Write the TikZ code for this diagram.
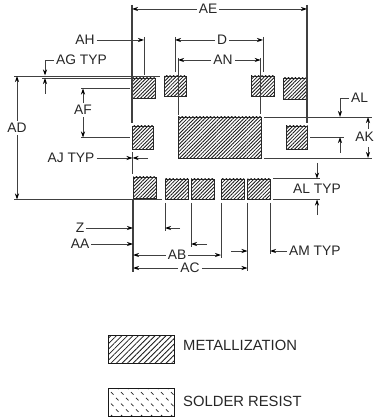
\documentclass[tikz,border=0pt]{standalone}
\usepackage{fontspec}
\setmainfont{Liberation Sans}
\usetikzlibrary{arrows.meta,patterns,patterns.meta}
\pgfdeclarepatternformonly{resist}{\pgfqpoint{-1pt}{-1pt}}{\pgfqpoint{11pt}{12.4pt}}{\pgfqpoint{10pt}{11.4pt}}{
    \pgfsetlinewidth{0.75pt}
    \pgfpathmoveto{\pgfqpoint{1pt}{4pt}}\pgfpathlineto{\pgfqpoint{3.5pt}{1.5pt}}
    \pgfpathmoveto{\pgfqpoint{6pt}{9.7pt}}\pgfpathlineto{\pgfqpoint{8.5pt}{7.2pt}}
    \pgfusepath{stroke}
}
\begin{document}
\begin{tikzpicture}[x=1pt,y=-1pt]
        \tikzstyle{pad}=[draw=black!85,line width=0.9pt,anchor=north west,inner sep=0pt,outer sep=0pt,pattern={Lines[angle=45,distance=2.5pt,line width=0.85pt]},pattern color=black!90]
        \tikzstyle{swatch}=[draw=black!90,line width=0.9pt,anchor=north west,inner sep=0pt,outer sep=0pt,minimum width=66pt,minimum height=28pt]
        \tikzstyle{annot}=[text=black!85,font=\fontsize{13.8}{15}\selectfont,inner sep=2pt]
        \tikzstyle{legend}=[text=black!85,font=\fontsize{14.8}{16}\selectfont,inner sep=2pt,anchor=west]
        \tikzstyle{ext}=[draw=black!75,line width=0.8pt]
        \tikzstyle{dim}=[draw=black!75,line width=0.8pt,-{Stealth[length=6pt,width=4pt,black]}]

        \useasboundingbox (0,0) rectangle (374,419);

        \foreach \name / \x / \y / \w / \h in {T-1/132.5/78/23/20, T-2/164/76/22/20, T-3/251/76/23.5/20.5, T-4/283/78/24/21,
            M-1/132/126/21/23, M-2/178/117/83/41, M-3/286/126/21.5/23.5,
            B-1/133/177/23/21, B-2/165/179/23/20.5, B-3/191/179/23/20.5, B-4/221/179/23/20.5, B-5/247.5/179/23/20.5}
            \node[pad, minimum width=\w pt, minimum height=\h pt] (\name) at (\x,\y) {};

        \foreach \name / \x / \ya / \yb / \lw in {L/132/5/123/1.2, R/307/5/123/1.2, H/144/37/75/0.8, Dl/175/37/72/0.8, Dr/263/37/72/0.8,
            Nl/178/58/115/0.8, Nr/260.7/58/114/0.8, J/132.5/152/174/0.8,
            V-0/133/200/272/1.5, V-1/165/203/231/0.8, V-2/191/203/247/0.8, V-3/221/203/258/0.8, V-4/247.5/203/271/1.2, V-5/270/203/254/0.8}
        {
            \coordinate (\name-a) at (\x,\ya);
            \coordinate (\name-b) at (\x,\yb);
            \draw[ext, line width=\lw pt] (\name-a) -- (\name-b);
        }

        \foreach \name / \y / \xa / \xb in {Top/76/14/160, Toq/78/42/132, Fa/88.5/81/130, Fb/137.5/81/130, Bot/199.5/14/162,
            La/117/264/372, Kb/158/264/372, Lm/137/310/344, Ta/178.7/273/320, Tb/199.5/273/320}
        {
            \coordinate (\name-a) at (\xa,\y);
            \coordinate (\name-b) at (\xb,\y);
            \draw[ext] (\name-a) -- (\name-b);
        }

        \node[annot] (AE) at (208,9) {AE};
        \node[annot] (AH) at (85,40) {AH};
        \node[annot] (D) at (222,40) {D};
        \node[annot] (AN) at (223,60) {AN};
        \node[annot, anchor=west] (AG) at (54,60) {AG TYP};
        \node[annot] (AF) at (83,110) {AF};
        \node[annot] (AD) at (17,128) {AD};
        \node[annot] (AJ) at (71,158) {AJ TYP};
        \node[annot] (Z) at (80,228) {Z};
        \node[annot] (AA) at (80,244) {AA};
        \node[annot] (AB) at (177,255) {AB};
        \node[annot] (AC) at (190,268) {AC};
        \node[annot, anchor=west] (AM) at (287,251) {AM TYP};
        \node[annot, anchor=west] (AL) at (349,98) {AL};
        \node[annot, anchor=east, inner sep=0pt] (AK) at (374,137) {AK};
        \node[annot] (ALT) at (317,189) {AL TYP};

        \coordinate (AGlow) at (45,94);
        \coordinate (AGtip) at (45,75.5);
        \coordinate (AJend) at (148,158);
        \coordinate (Zend) at (180,228);
        \coordinate (AAend) at (207,244);
        \coordinate (AMend) at (231,251);
        \coordinate (ALtip) at (340,117);
        \coordinate (ALlow) at (340,153);
        \coordinate (AKup) at (368,129);
        \coordinate (AKlow) at (368,147);
        \coordinate (ALup) at (317,163);
        \coordinate (ALdn) at (317,215);

        \draw[dim] (AE) -- (AE -| L-a);
        \draw[dim] (AE) -- (AE -| R-a);
        \draw[dim] (AH) -- (AH -| H-a);
        \draw[dim] (D) -- (D -| Dl-a);
        \draw[dim] (D) -- (D -| Dr-a);
        \draw[dim] (AN) -- (AN -| Nl-a);
        \draw[dim] (AN) -- (AN -| Nr-a);
        \draw[dim] (AG.west) -| (AGtip);
        \draw[dim] (AGlow) -- (Toq-a -| AGlow);
        \draw[dim] (AF) -- (AF |- Fa-a);
        \draw[dim] (AF) -- (AF |- Fb-a);
        \draw[dim] (AD) -- (AD |- Top-a);
        \draw[dim] (AD) -- (AD |- Bot-a);
        \draw[dim] (AJ) -- (AJ -| J-a);
        \draw[dim] (AJend) -- (AJend -| J-a);
        \draw[dim] (Z) -- (Z -| V-0-a);
        \draw[dim] (AA) -- (AA -| V-0-a);
        \draw[dim] (AB) -- (AB -| V-0-a);
        \draw[dim] (AB) -- (AB -| V-3-a);
        \draw[dim] (AC) -- (AC -| V-0-a);
        \draw[dim] (AC) -- (AC -| V-4-a);
        \draw[dim] (Zend) -- (Zend -| V-1-a);
        \draw[dim] (AAend) -- (AAend -| V-2-a);
        \draw[dim] (AMend) -- (AMend -| V-4-a);
        \draw[dim] (AM) -- (AM -| V-5-a);
        \draw[dim] (AL.west) -| (ALtip);
        \draw[dim] (ALlow) -- (ALlow |- Lm-a);
        \draw[dim] (AKup) -- (AKup |- La-a);
        \draw[dim] (AKlow) -- (AKlow |- Kb-a);
        \draw[dim] (ALup) -- (ALup |- Ta-a);
        \draw[dim] (ALdn) -- (ALdn |- Tb-a);

        \node[swatch, pattern={Lines[angle=45,distance=3.9pt,line width=0.8pt]}, pattern color=black!90] (metal) at (108,335) {};
        \node[swatch, pattern=resist, pattern color=black!85] (resist) at (108,388) {};
        \node[legend] (metalDesc) at (181,345) {METALLIZATION};
        \node[legend] (resistDesc) at (181,401) {SOLDER RESIST};
\end{tikzpicture}
\end{document}
